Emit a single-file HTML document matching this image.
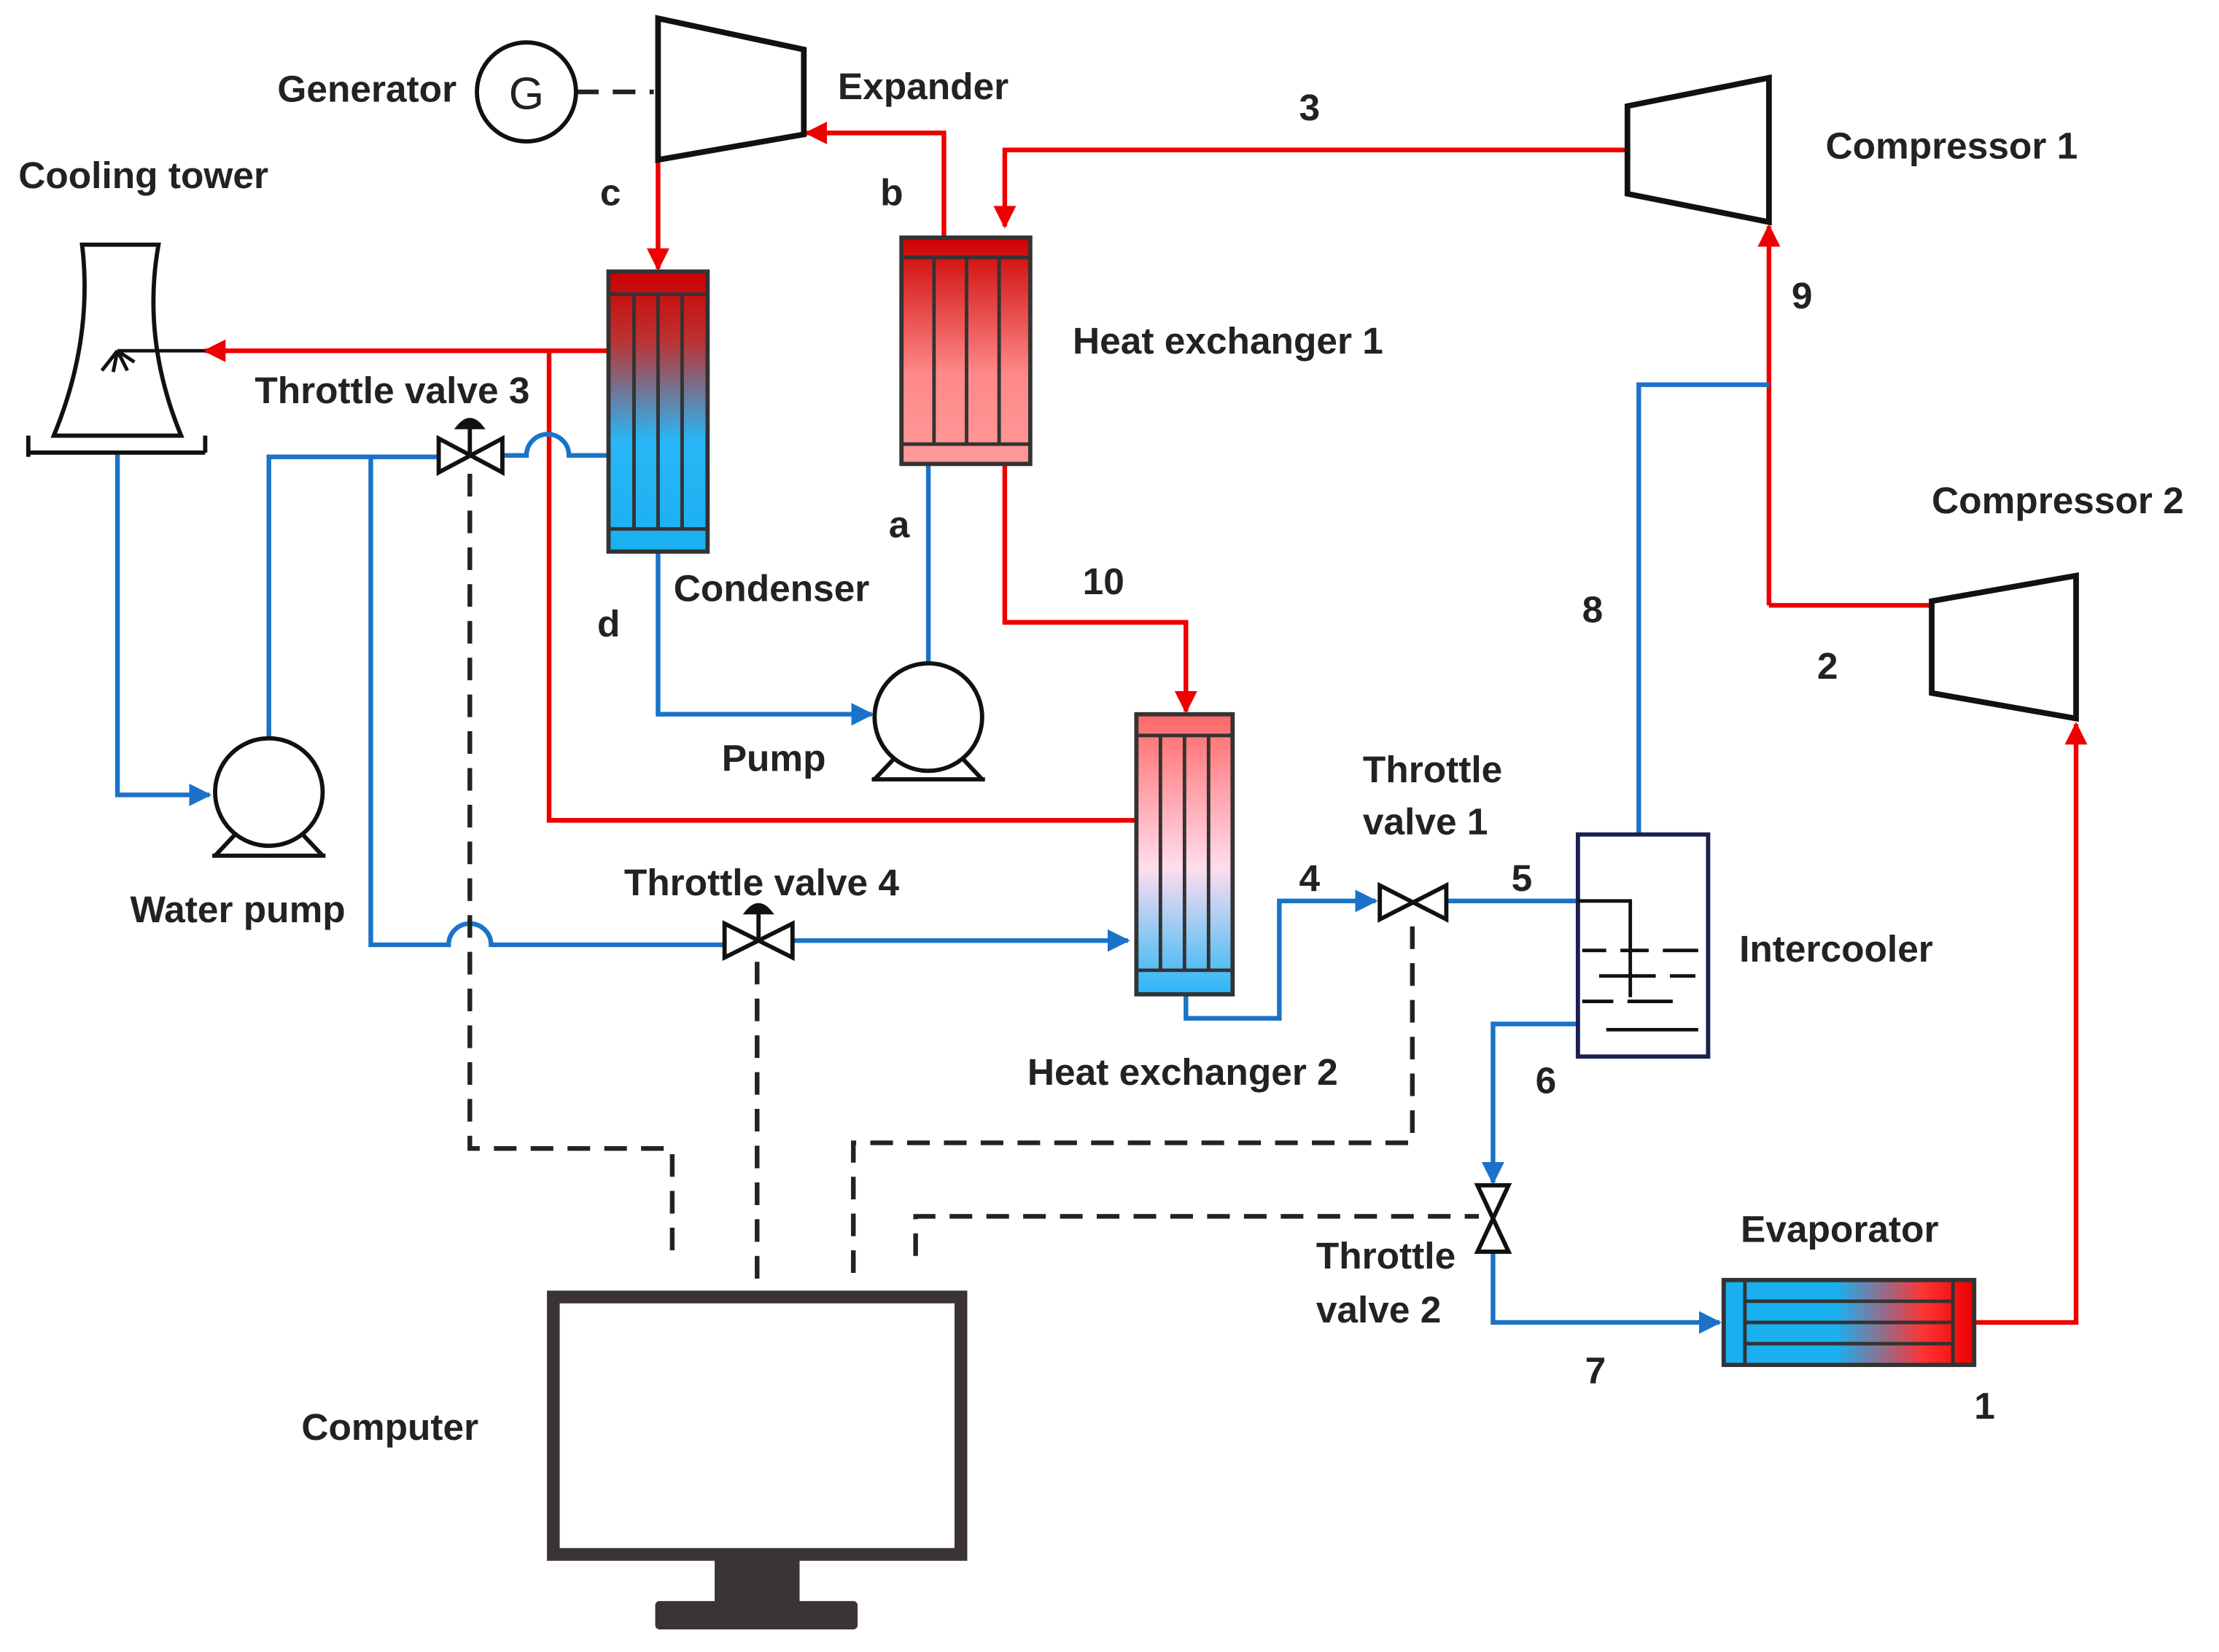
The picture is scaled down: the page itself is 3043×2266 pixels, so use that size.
<!DOCTYPE html>
<html><head><meta charset="utf-8"><style>
html,body{margin:0;padding:0;background:#fff;}
svg{display:block;}
text{font-family:"Liberation Sans",sans-serif;font-weight:bold;font-size:26.5px;fill:#222;}
</style></head><body>
<svg width="3043" height="2266" viewBox="0 0 1568 1168" preserveAspectRatio="none" xmlns="http://www.w3.org/2000/svg">
<defs>
<marker id="ar2" viewBox="0 0 10 10" markerWidth="16" markerHeight="16" refX="9" refY="5" orient="auto" markerUnits="userSpaceOnUse"><path d="M0,0 L10,5 L0,10 z" fill="#e00"/></marker>
<marker id="ab2" viewBox="0 0 10 10" markerWidth="16" markerHeight="16" refX="9" refY="5" orient="auto" markerUnits="userSpaceOnUse"><path d="M0,0 L10,5 L0,10 z" fill="#1a73c9"/></marker>
<linearGradient id="hx1" x1="0" y1="0" x2="0" y2="1"><stop offset="0" stop-color="#c00"/><stop offset="0.6" stop-color="#f88"/><stop offset="1" stop-color="#f99"/></linearGradient>
<linearGradient id="cond" x1="0" y1="0" x2="0" y2="1"><stop offset="0" stop-color="#c00"/><stop offset="0.25" stop-color="#b33"/><stop offset="0.6" stop-color="#29b6f6"/><stop offset="1" stop-color="#1ab0f0"/></linearGradient>
<linearGradient id="hx2" x1="0" y1="0" x2="0" y2="1"><stop offset="0" stop-color="#f66"/><stop offset="0.55" stop-color="#fde"/><stop offset="1" stop-color="#29b6f6"/></linearGradient>
<linearGradient id="evap" x1="0" y1="0" x2="1" y2="0"><stop offset="0" stop-color="#1ab0f0"/><stop offset="0.45" stop-color="#1ab0f0"/><stop offset="0.8" stop-color="#f33"/><stop offset="1" stop-color="#e00"/></linearGradient>
</defs>

<g fill="none" stroke-width="3.3">
<g stroke="#e00">
<path d="M667,168 V94 H570" marker-end="url(#ar2)"/>
<path d="M1150,106 H710 V160" marker-end="url(#ar2)"/>
<path d="M465,113 V190" marker-end="url(#ar2)"/>
<path d="M430,248 H145" marker-end="url(#ar2)"/>
<path d="M388,248 V580 H803"/>
<path d="M710,328 V440 H838 V503" marker-end="url(#ar2)"/>
<path d="M1250,428 V160" marker-end="url(#ar2)"/>
<path d="M1250,428 H1365"/>
<path d="M1395,935 H1467 V512" marker-end="url(#ar2)"/>
</g>
<g stroke="#1a73c9">
<path d="M83,320 V562 H148" marker-end="url(#ab2)"/>
<path d="M190,522 V323 H310"/>
<path d="M355,322 H372 A15,15 0 0 1 402,322 H430"/>
<path d="M262,323 V668 H317 A15,15 0 0 1 347,668 H512"/>
<path d="M560,665 H797" marker-end="url(#ab2)"/>
<path d="M465,390 V505 H616" marker-end="url(#ab2)"/>
<path d="M656,328 V469"/>
<path d="M838,703 V720 H904 V637 H972" marker-end="url(#ab2)"/>
<path d="M1022,637 H1115"/>
<path d="M1158,590 V272 H1250"/>
<path d="M1115,724 H1055 V836" marker-end="url(#ab2)"/>
<path d="M1055,885 V935 H1215" marker-end="url(#ab2)"/>
</g>
<g stroke="#222" stroke-dasharray="16,10">
<path d="M407,65 H462"/>
<path d="M332,335 V812 H475 V885"/>
<path d="M535,680 V912"/>
<path d="M603,900 V808 H998 V650"/>
<path d="M647,888 V860 H1045"/>
</g>
</g>

<circle cx="372" cy="65" r="35" fill="#fff" stroke="#111" stroke-width="3"/>
<text x="372" y="77" text-anchor="middle" style="font-size:32px;font-weight:normal">G</text>
<polygon points="465,13 568,35 568,95 465,113" fill="#fff" stroke="#111" stroke-width="4"/>
<polygon points="1150,75 1250,55 1250,157 1150,137" fill="#fff" stroke="#111" stroke-width="4"/>
<polygon points="1365,425 1467,407 1467,508 1365,490" fill="#fff" stroke="#111" stroke-width="4"/>

<rect x="637" y="168" width="91" height="160" fill="url(#hx1)" stroke="#333" stroke-width="3"/>
<g stroke="#333" stroke-width="2.5"><line x1="637" y1="182" x2="728" y2="182"/><line x1="637" y1="314" x2="728" y2="314"/>
<line x1="660" y1="182" x2="660" y2="314"/><line x1="683" y1="182" x2="683" y2="314"/><line x1="706" y1="182" x2="706" y2="314"/></g>
<rect x="430" y="192" width="70" height="198" fill="url(#cond)" stroke="#333" stroke-width="3"/>
<g stroke="#333" stroke-width="2.5"><line x1="430" y1="208" x2="500" y2="208"/><line x1="430" y1="374" x2="500" y2="374"/>
<line x1="448" y1="208" x2="448" y2="374"/><line x1="465" y1="208" x2="465" y2="374"/><line x1="482" y1="208" x2="482" y2="374"/></g>
<rect x="803" y="505" width="68" height="198" fill="url(#hx2)" stroke="#333" stroke-width="3"/>
<g stroke="#333" stroke-width="2.5"><line x1="803" y1="520" x2="871" y2="520"/><line x1="803" y1="686" x2="871" y2="686"/>
<line x1="820" y1="520" x2="820" y2="686"/><line x1="837" y1="520" x2="837" y2="686"/><line x1="854" y1="520" x2="854" y2="686"/></g>
<rect x="1218" y="905" width="177" height="60" fill="url(#evap)" stroke="#333" stroke-width="3"/>
<g stroke="#333" stroke-width="2.5"><line x1="1233" y1="905" x2="1233" y2="965"/><line x1="1380" y1="905" x2="1380" y2="965"/>
<line x1="1233" y1="920" x2="1380" y2="920"/><line x1="1233" y1="935" x2="1380" y2="935"/><line x1="1233" y1="950" x2="1380" y2="950"/></g>

<rect x="1115" y="590" width="92" height="157" fill="#fff" stroke="#1a2050" stroke-width="3"/>
<g stroke="#111" stroke-width="2.5" fill="none">
<path d="M1115,637 H1152 V705"/>
<path d="M1118,672 H1135 M1145,672 H1165 M1175,672 H1200"/>
<path d="M1130,690 H1170 M1180,690 H1198"/>
<path d="M1118,708 H1140 M1150,708 H1182"/>
<path d="M1135,728 H1200"/>
</g>

<path d="M58,173 H112 Q100,240 128,308 H38 Q66,240 58,173 Z" fill="#fff" stroke="#111" stroke-width="3"/>
<path d="M20,323 V308 M20,320 H145 M145,320 V308" fill="none" stroke="#111" stroke-width="3"/>
<path d="M83,248 H145 M83,248 L72,262 M83,248 L80,263 M83,248 L90,262 M83,248 L95,256" stroke="#111" stroke-width="2.5" fill="none"/>

<g fill="#fff" stroke="#111" stroke-width="3">
<path d="M152,605 L168,588 M228,605 L212,588 M150,605 H230"/>
<circle cx="190" cy="560" r="38"/>
<path d="M618,551 L634,534 M694,551 L678,534 M616,551 H696"/>
<circle cx="656" cy="507" r="38"/>
</g>

<g fill="#fff" stroke="#111" stroke-width="3">
<polygon points="310,310 355,334 355,310 310,334"/>
<line x1="332" y1="322" x2="332" y2="302"/><path d="M324,302 Q332,292 340,302 Z" fill="#111"/>
<polygon points="512,653 560,677 560,653 512,677"/>
<line x1="536" y1="665" x2="536" y2="645"/><path d="M528,645 Q536,635 544,645 Z" fill="#111"/>
<polygon points="975,626 1022,650 1022,626 975,650"/>
<polygon points="1044,838 1066,838 1044,885 1066,885"/>
</g>

<rect x="391" y="917" width="288" height="182" fill="#fff" stroke="#3a3435" stroke-width="9"/>
<rect x="505" y="1103" width="60" height="30" fill="#3a3435"/>
<rect x="463" y="1132" width="143" height="20" rx="3" fill="#3a3435"/>

<text x="196" y="72">Generator</text>
<text x="592" y="70">Expander</text>
<text x="13" y="133">Cooling tower</text>
<text x="1290" y="112">Compressor 1</text>
<text x="758" y="250">Heat exchanger 1</text>
<text x="180" y="285">Throttle valve 3</text>
<text x="476" y="425">Condenser</text>
<text x="1365" y="363">Compressor 2</text>
<text x="510" y="545">Pump</text>
<text x="92" y="652">Water pump</text>
<text x="441" y="633">Throttle valve 4</text>
<text x="963" y="553">Throttle</text>
<text x="963" y="590">valve 1</text>
<text x="1229" y="680">Intercooler</text>
<text x="726" y="767">Heat exchanger 2</text>
<text x="1230" y="878">Evaporator</text>
<text x="930" y="897">Throttle</text>
<text x="930" y="935">valve 2</text>
<text x="213" y="1018">Computer</text>
<text x="918" y="85">3</text>
<text x="424" y="145">c</text>
<text x="622" y="145">b</text>
<text x="628" y="380">a</text>
<text x="422" y="450">d</text>
<text x="765" y="420">10</text>
<text x="1266" y="218">9</text>
<text x="1118" y="440">8</text>
<text x="1284" y="480">2</text>
<text x="918" y="630">4</text>
<text x="1068" y="630">5</text>
<text x="1085" y="773">6</text>
<text x="1120" y="978">7</text>
<text x="1395" y="1003">1</text>
</svg>
</body></html>
